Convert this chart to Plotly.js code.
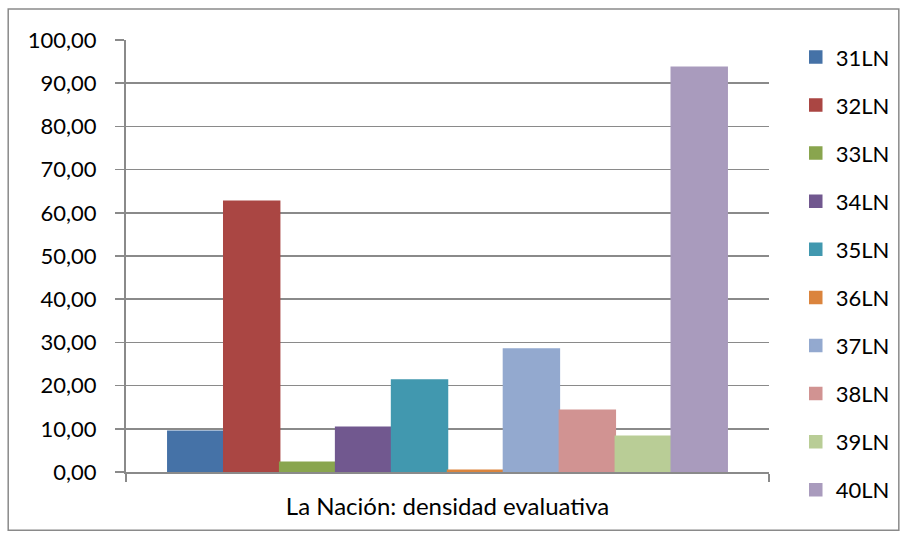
<!DOCTYPE html>
<html>
<head>
<meta charset="utf-8">
<script src="https://cdn.plot.ly/plotly-3.0.1.min.js"></script>
<style>html,body{margin:0;padding:0;background:#fff;}#chart{width:906px;height:533px;}</style>
</head>
<body>
<div id="chart"></div>
<script>
const category = ["La Nación: densidad evaluativa"];
const seriesNames = ["31LN","32LN","33LN","34LN","35LN","36LN","37LN","38LN","39LN","40LN"];
const seriesValues = [9.44, 62.7, 2.25, 10.37, 21.27, 0.4, 28.47, 14.3, 8.28, 93.7];
const seriesColors = ["#4572A7","#AA4643","#89A54E","#71588F","#4198AF","#DB843D","#93A9CF","#D19392","#B9CD96","#A99BBD"];
const yTicks = [0,10,20,30,40,50,60,70,80,90,100];

const traces = seriesNames.map((n,i)=>({
  type:'bar', name:n, x:category, y:[seriesValues[i]],
  marker:{color:seriesColors[i], line:{width:1.5, color:seriesColors[i]}},
  legendgroup:'g'+i, hoverinfo:'name+y'
}));

const FONT = 'Lato, "Open Sans", sans-serif';
const layout = {
  width:906, height:533,
  margin:{l:126, r:136, t:40, b:61.3},
  paper_bgcolor:'#fff', plot_bgcolor:'#fff',
  separators:',.',
  font:{family:FONT, size:22, color:'#000'},
  bargap:0.13, bargroupgap:0,
  barmode:'group',
  xaxis:{
    type:'category', showgrid:false, showline:true, linecolor:'#8a8a8a', linewidth:2,
    ticks:'outside', tickson:'boundaries', ticklen:8, tickcolor:'#8a8a8a', tickwidth:2,
    ticklabelstandoff:12, tickfont:{size:24, family:FONT}, fixedrange:true
  },
  yaxis:{
    range:[0,100], tickvals:yTicks, tickformat:'.2f', showgrid:true, gridcolor:'#8a8a8a', gridwidth:1.5,
    showline:true, linecolor:'#8a8a8a', linewidth:2, ticks:'outside', ticklen:9, tickcolor:'#8a8a8a', tickwidth:1.5,
    ticklabelstandoff:14, zeroline:false, tickfont:{size:22, family:FONT}, fixedrange:true
  },
  legend:{x:1.04, xanchor:'left', y:1.009, yanchor:'top', traceorder:'grouped', tracegroupgap:16.5,
    maxheight:530, font:{size:22, family:FONT}, itemwidth:30, bgcolor:'rgba(0,0,0,0)'},
  shapes:[{type:'rect', xref:'paper', yref:'paper', x0:-0.1832, x1:1.2019, y0:-0.135, y1:1.0718,
    line:{color:'#8a8a8a', width:1.5}, fillcolor:'rgba(0,0,0,0)', layer:'below'}],
  showlegend:true
};
Plotly.newPlot('chart', traces, layout, {displayModeBar:false, staticPlot:true});
</script>
</body>
</html>
